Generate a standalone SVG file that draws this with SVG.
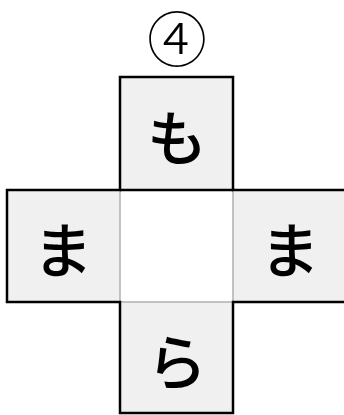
<svg xmlns="http://www.w3.org/2000/svg" width="344" height="415" viewBox="0 0 344 415">
<style>
.face{fill:#f0f0f0;stroke:none}
.kana{font-family:"Noto Sans CJK JP","Noto Sans CJK SC",sans-serif;font-size:60px;font-weight:500;fill:#000;text-anchor:middle;dominant-baseline:central}
.fold{stroke:#b0b0b0;stroke-width:1.5;fill:none}
.edge{stroke:#000;stroke-width:2.5;fill:none}
</style>
<rect width="344" height="415" fill="#fff"/>
<text x="177" y="35" font-family="'Noto Sans CJK JP','Noto Sans CJK SC',sans-serif" font-size="60" font-weight="300" text-anchor="middle" dominant-baseline="central">④</text>
<g id="top"><rect class="face" x="120" y="77" width="113" height="113"/><text class="kana" x="177" y="134">も</text></g>
<g id="left"><rect class="face" x="7" y="190" width="113" height="112"/><text class="kana" x="63" y="246">ま</text></g>
<g id="center"><rect x="120" y="190" width="113" height="112" fill="#fff"/></g>
<g id="right"><rect class="face" x="233" y="190" width="113" height="112"/><text class="kana" x="290" y="246">ま</text></g>
<g id="bottom"><rect class="face" x="120" y="302" width="113" height="111"/><text class="kana" x="177" y="358">ら</text></g>
<g id="connectors">
<path class="fold" d="M120,190V302M233,190V302M120,302H233"/>
<path class="edge" d="M120,77H233V190H346V302H233V413H120V302H7V190H120Z"/>
<path class="edge" d="M120,190H233"/>
</g>
</svg>
